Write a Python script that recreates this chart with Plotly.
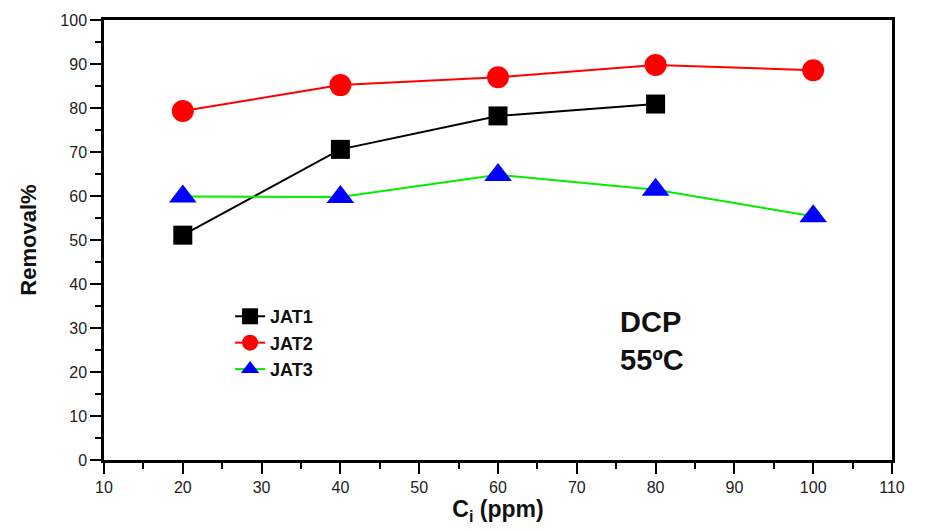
import plotly.graph_objects as go

conc = [20, 40, 60, 80, 100]
jat1 = [51.1, 70.6, 78.2, 80.9]
jat2 = [79.3, 85.2, 87.0, 89.8, 88.6]
jat3 = [59.9, 59.8, 64.8, 61.4, 55.4]

FONT = "Liberation Sans, Arial"

fig = go.Figure()
fig.add_trace(go.Scatter(x=conc[:4], y=jat1, name="JAT1", mode="lines+markers",
                         line=dict(color="black", width=2),
                         marker=dict(symbol="square", size=19, color="black")))
fig.add_trace(go.Scatter(x=conc, y=jat2, name="JAT2", mode="lines+markers",
                         line=dict(color="#ff0000", width=2),
                         marker=dict(symbol="circle", size=22, color="#ff0000")))
fig.add_trace(go.Scatter(x=conc, y=jat3, name="JAT3", mode="lines+markers",
                         line=dict(color="#00ee00", width=2),
                         marker=dict(symbol="triangle-up", size=24, color="#0000ff")))

fig.add_annotation(x=75.2, y=27, xref="x", yref="y", showarrow=False,
                   xanchor="left",
                   text="<b>DCP<br>55ºC</b>", align="left",
                   font=dict(family=FONT, size=29, color="#111"))

axis_common = dict(showgrid=False, zeroline=False, showline=True, linecolor="black",
                   linewidth=2.5, mirror=True, ticks="outside", ticklen=11, tickwidth=2,
                   tickcolor="black",
                   tickfont=dict(family=FONT, size=16, color="#222"))

fig.update_xaxes(range=[10, 110], tick0=10, dtick=10,
                 minor=dict(dtick=5, ticks="outside", ticklen=6, tickwidth=2, tickcolor="black"),
                 title=dict(text="<b>C<sub>i</sub> (ppm)</b>", standoff=4,
                            font=dict(family=FONT, size=23, color="#111")),
                 **axis_common)
fig.update_yaxes(range=[0, 100], tick0=0, dtick=10,
                 minor=dict(dtick=5, ticks="outside", ticklen=6, tickwidth=2, tickcolor="black"),
                 title=dict(text="<b>Removal%</b>", standoff=18,
                            font=dict(family=FONT, size=22, color="#111")),
                 **axis_common)

fig.update_layout(
    width=930, height=531,
    margin=dict(l=104, r=38, t=20, b=71),
    paper_bgcolor="white", plot_bgcolor="white",
    showlegend=True,
    legend=dict(x=0.16, y=0.368, xanchor="left", yanchor="top",
                bgcolor="rgba(0,0,0,0)", borderwidth=0,
                font=dict(family=FONT, size=18, color="#111", weight="bold"),
                tracegroupgap=0, itemsizing="trace"),
)

fig.write_html("out.html")
